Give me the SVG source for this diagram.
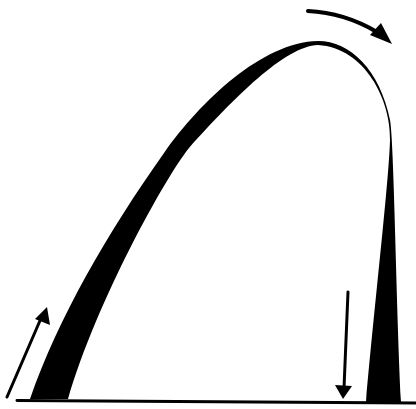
<svg xmlns="http://www.w3.org/2000/svg" width="416" height="409" viewBox="0 0 416 409">
<style>
.ink{fill:#000;stroke:none}
.line{fill:none;stroke:#000;stroke-linecap:round}
</style>
<rect width="416" height="409" fill="#fff"/>
<g id="arch">
<path class="ink" d="M30,399 C58,318 108,232 164,153 C200,102 262,42 318,41 C350,41 380,70 390,120 C394,140 396,300 401,402 L366,402 C375,300 389,180 390,140 C391,100 365,48 318,45 C285,46 234,98 189,148 C165,178 97,300 68,399 Z"/>
</g>
<g id="ground">
<path class="line" d="M17,400.5 L416,403" stroke-width="3"/>
</g>
<g id="arrows">
<path class="line" d="M308,11 C330,12 355,19 377,32" stroke-width="4"/>
<polygon class="ink" points="370,35 381,23 392,44"/>
<path class="line" d="M7,397 L42,316" stroke-width="3"/>
<polygon class="ink" points="35,319 50,325 47,307"/>
<path class="line" d="M348,292 L344,388" stroke-width="3"/>
<polygon class="ink" points="335,385 352,386 343,399"/>
</g>
</svg>
